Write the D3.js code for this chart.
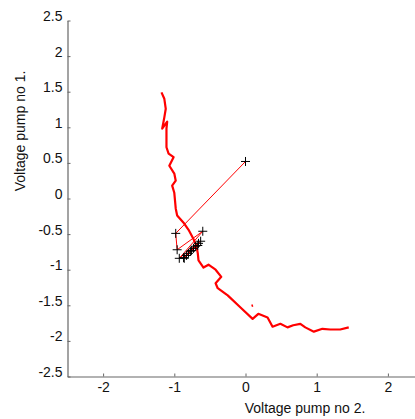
<!DOCTYPE html>
<html><head><meta charset="utf-8">
<script src="https://cdn.jsdelivr.net/npm/d3@7"></script>
<style>body{margin:0;background:#fff}svg{display:block}text{font-family:"Liberation Sans",Arial,sans-serif}</style>
</head><body>
<svg id="c" width="415" height="419"></svg>
<script>
// thick red trajectory (pump 2 voltage, pump 1 voltage)
const curveX = [-1.18,-1.14,-1.12,-1.14,-1.17,-1.10,-1.11,-1.11,-1.08,-1.01,-1.07,-1.00,-0.98,-1.03,-1.00,-0.98,-0.96,-0.87,-0.80,-0.74,-0.69,-0.67,-0.66,-0.59,-0.52,-0.42,-0.34,-0.42,-0.39,-0.25,-0.07,0.10,0.18,0.31,0.38,0.49,0.59,0.67,0.77,0.84,0.96,1.08,1.19,1.33,1.45];
const curveY = [1.49,1.40,1.26,1.14,0.98,1.08,0.98,0.72,0.63,0.58,0.46,0.35,0.25,0.18,0.08,-0.14,-0.24,-0.34,-0.44,-0.55,-0.66,-0.77,-0.87,-0.97,-0.93,-1.00,-1.10,-1.19,-1.26,-1.36,-1.53,-1.69,-1.62,-1.67,-1.80,-1.76,-1.81,-1.78,-1.76,-1.81,-1.87,-1.83,-1.84,-1.84,-1.81];
// small isolated red fragment
const specX = [0.09,0.10];
const specY = [-1.49,-1.52];
// '+' markers joined by a thin red line
const markX = [0.00,-0.98,-0.96,-0.60,-0.93,-0.63,-0.87,-0.66,-0.83,-0.67,-0.80,-0.70,-0.77,-0.73,-0.86,-0.76];
const markY = [0.52,-0.49,-0.72,-0.46,-0.84,-0.60,-0.83,-0.63,-0.80,-0.66,-0.77,-0.67,-0.74,-0.70,-0.84,-0.73];
const xTicks = [-2,-1,0,1,2];
const xTickLabels = ["-2","-1","0","1","2"];
const yTicks = [-2.5,-2,-1.5,-1,-0.5,0,0.5,1,1.5,2,2.5];
const yTickLabels = ["-2.5","-2","-1.5","-1","-0.5","0","0.5","1","1.5","2","2.5"];

const svg = d3.select("#c");
const x = d3.scaleLinear().domain([-2.5,2.5]).range([67.5,423.5]);
const y = d3.scaleLinear().domain([-2.5,2.5]).range([376.5,20.5]);
const axCol = "#666";

const xAxis = svg.append("g").attr("transform","translate(0,"+y(-2.5)+")")
  .call(d3.axisBottom(x).tickValues(xTicks).tickFormat((d,i)=>xTickLabels[i]).tickSizeInner(-3).tickSizeOuter(0).tickPadding(5));
const yAxis = svg.append("g").attr("transform","translate("+x(-2.5)+",0)")
  .call(d3.axisLeft(y).tickValues(yTicks).tickFormat((d,i)=>yTickLabels[i]).tickSizeInner(-3).tickSizeOuter(0).tickPadding(5));
[xAxis,yAxis].forEach(g=>{
  g.select(".domain").attr("stroke",axCol).attr("stroke-width",1.2);
  g.selectAll(".tick line").attr("stroke",axCol);
  g.selectAll(".tick text").attr("fill","#111").style("font-size","14px");
});
xAxis.selectAll(".tick text").attr("dy","0.75em");
yAxis.selectAll(".tick text").attr("dy","0");

const line = d3.line().x(d=>x(d[0])).y(d=>y(d[1]));
svg.append("path").datum(curveX.map((v,i)=>[v,curveY[i]]))
  .attr("d",line).attr("fill","none").attr("stroke","#f00").attr("stroke-width",2.2).attr("stroke-linejoin","round");
svg.append("path").datum(specX.map((v,i)=>[v,specY[i]]))
  .attr("d",line).attr("fill","none").attr("stroke","#f00").attr("stroke-width",1.5);
const marks = markX.map((v,i)=>[v,markY[i]]);
svg.append("path").datum(marks).attr("d",line).attr("fill","none").attr("stroke","#f00").attr("stroke-width",1);
svg.append("g").selectAll("path").data(marks).join("path")
  .attr("d",d=>{const cx=x(d[0]),cy=y(d[1]);return `M${cx-4.5},${cy}H${cx+4.5}M${cx},${cy-4.5}V${cy+4.5}`;})
  .attr("stroke","#000").attr("stroke-width",1).attr("fill","none");

svg.append("text").attr("x",305).attr("y",413).attr("text-anchor","middle").style("font-size","14px").attr("fill","#111").text("Voltage pump no 2.");
svg.append("text").attr("transform","translate(25,131) rotate(-90)").attr("text-anchor","middle").style("font-size","14px").attr("fill","#111").text("Voltage pump no 1.");
</script>
</body></html>
